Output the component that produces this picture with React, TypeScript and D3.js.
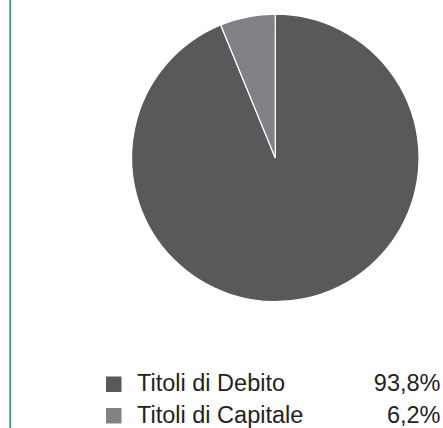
import React from "react";
import * as d3 from "d3";

const categories = ["Titoli di Debito", "Titoli di Capitale"];
const values = [93.8, 6.2];
const valueLabels = ["93,8%", "6,2%"];
const colors = ["#58595b", "#808285"];

export default function App() {
  const width = 443;
  const height = 428;
  const cx = 275.3;
  const cy = 157.9;
  const r = 143.7;

  const pie = d3.pie<number>().sort(null).value((d) => d)(values);
  const arc = d3.arc<d3.PieArcDatum<number>>().innerRadius(0).outerRadius(r);

  return (
    <svg
      width={width}
      height={height}
      style={{ position: "absolute", left: 0, top: 0, background: "#fff" }}
      fontFamily="'Liberation Sans', Arial, sans-serif"
    >
      <line x1={10.2} x2={10.2} y1={0} y2={height} stroke="#3a9a72" strokeWidth={1.8} />
      <g transform={`translate(${cx},${cy})`}>
        {pie.map((p, i) => (
          <path key={i} d={arc(p) || ""} fill={colors[i]} stroke="#fff" strokeWidth={1.2} />
        ))}
      </g>
      {categories.map((c, i) => {
        const y = 391 + i * 31.5;
        return (
          <g key={c}>
            <rect x={106} y={y - 14.5} width={15.5} height={15.5} fill={colors[i]} />
            <text x={137} y={y} fontSize={23.5} fill="#231f20">
              {c}
            </text>
            <text x={440.5} y={y} fontSize={23.5} fill="#231f20" textAnchor="end">
              {valueLabels[i]}
            </text>
          </g>
        );
      })}
    </svg>
  );
}
